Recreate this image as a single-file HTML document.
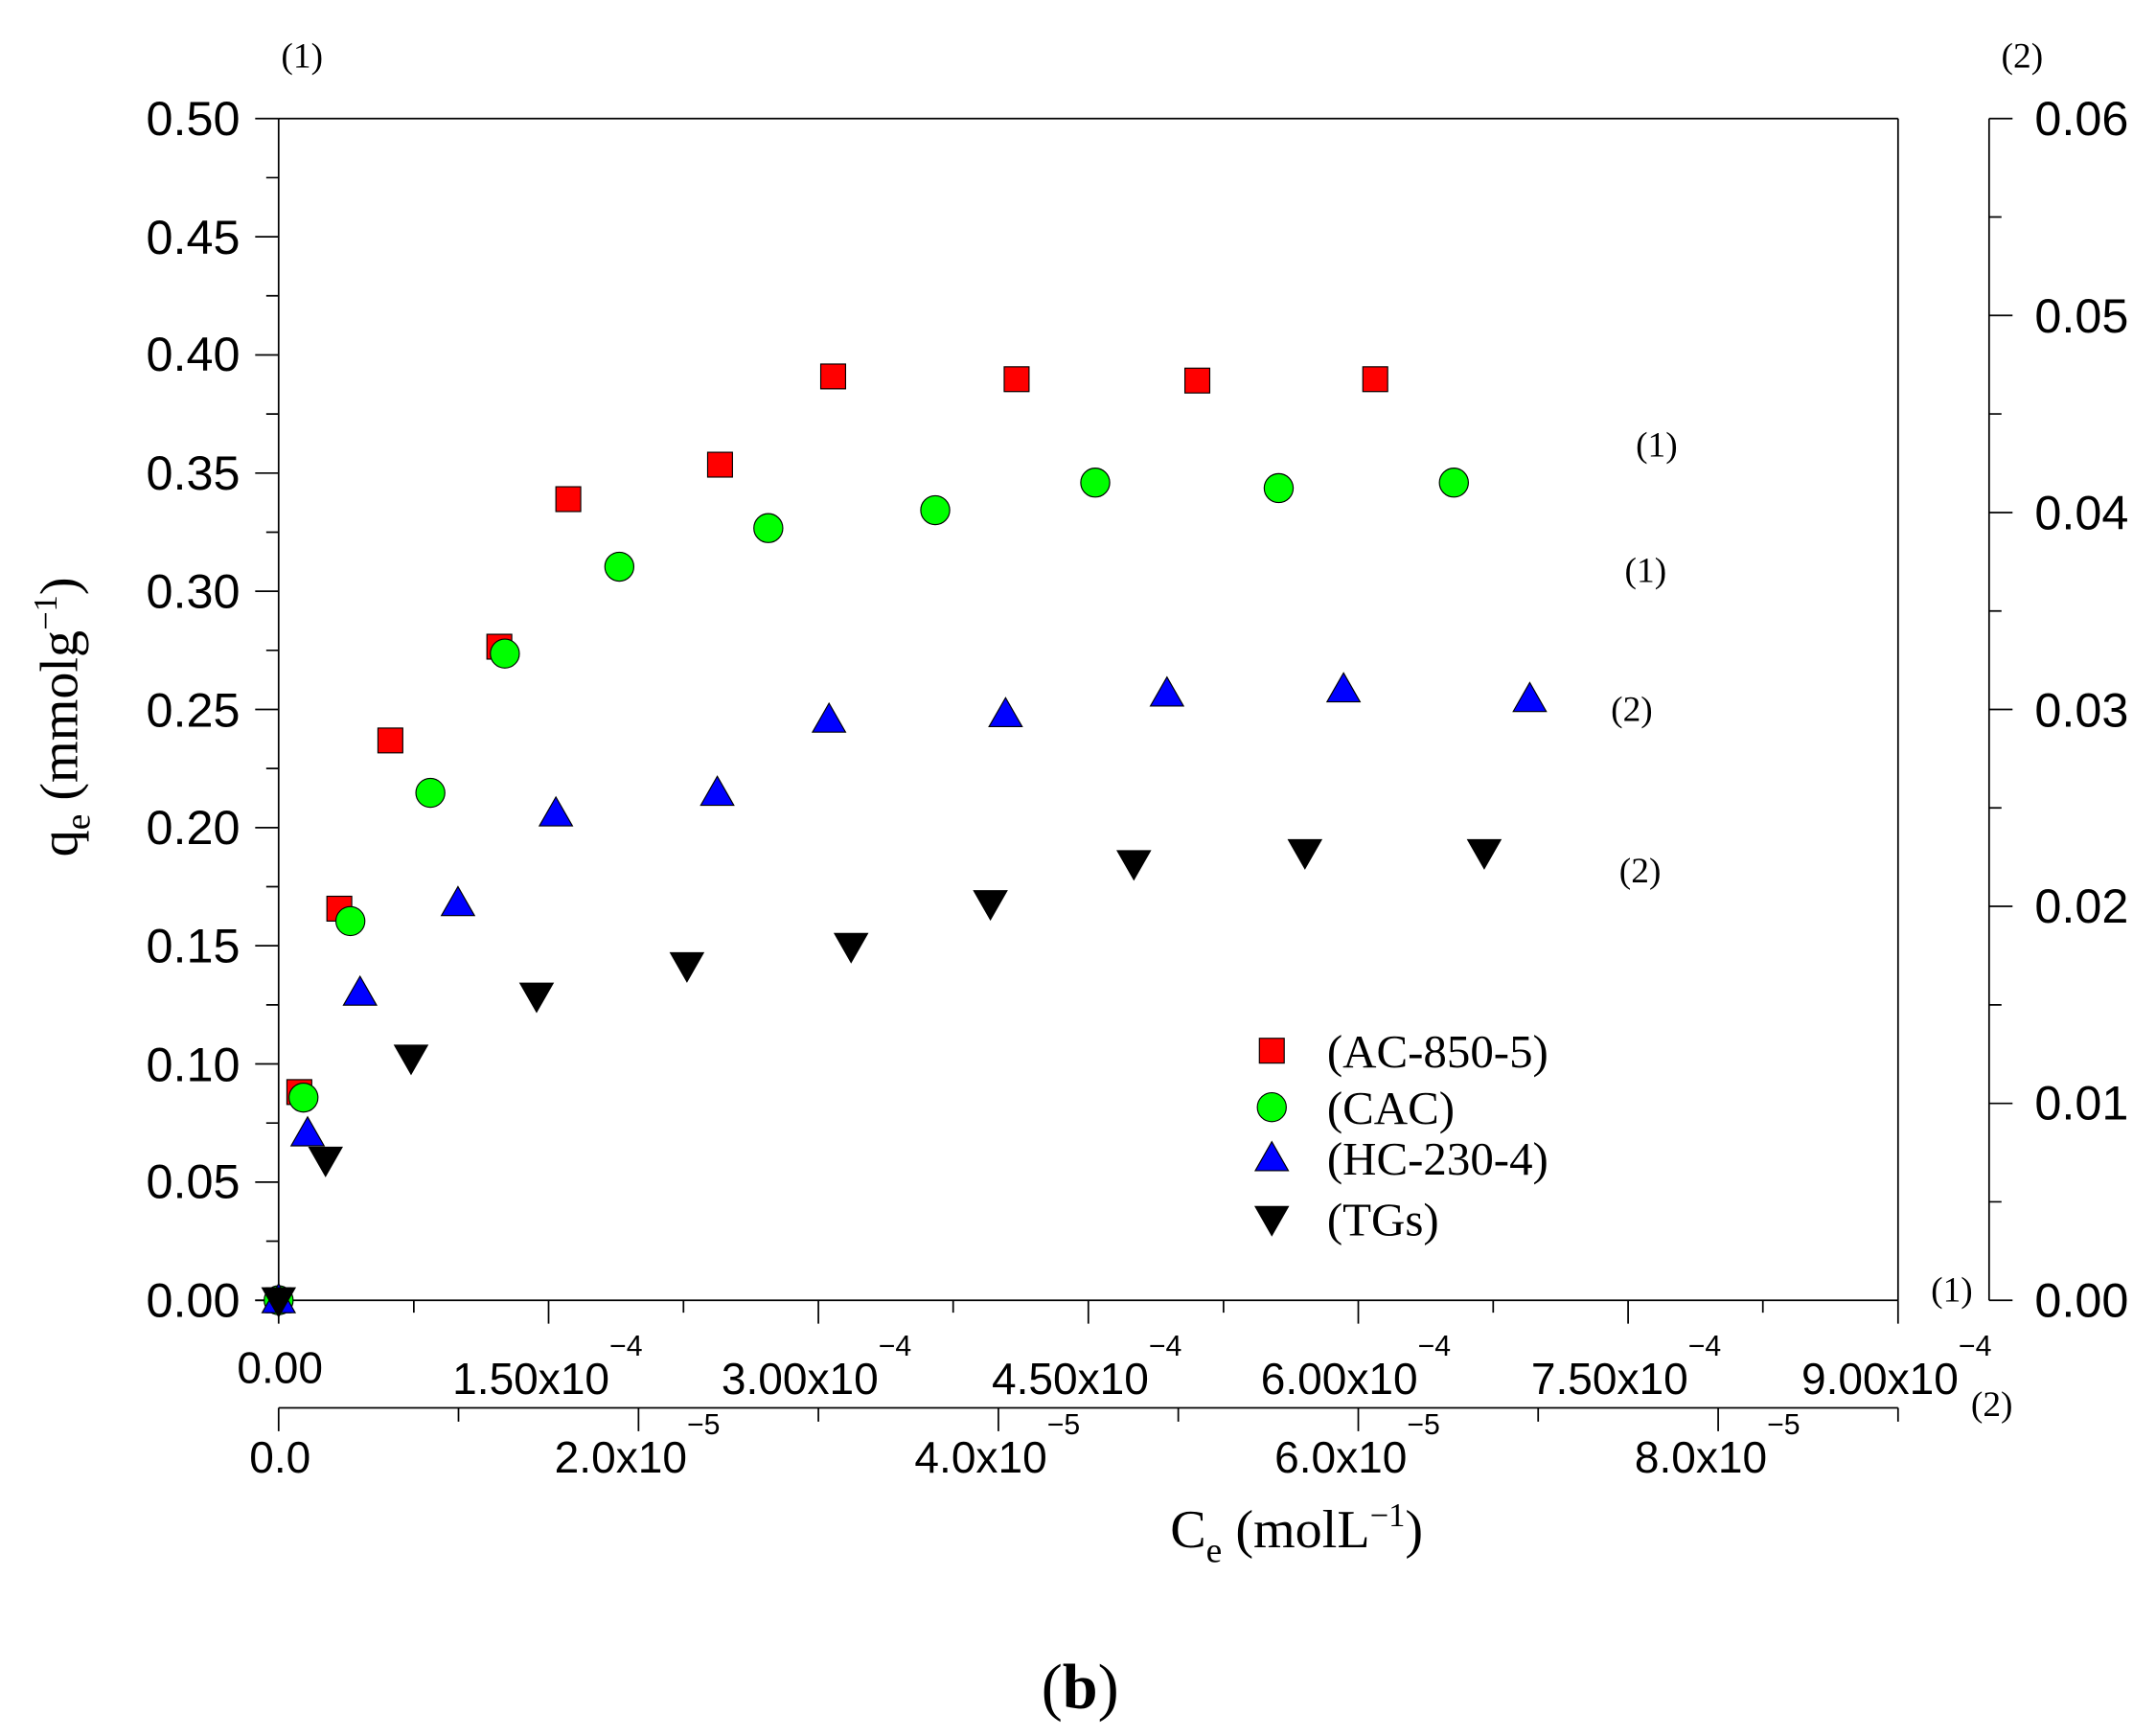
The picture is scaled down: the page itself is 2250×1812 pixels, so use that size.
<!DOCTYPE html>
<html><head><meta charset="utf-8"><style>
html,body{margin:0;padding:0;background:#fff;}
svg{display:block;}
.t{font-family:"Liberation Sans",sans-serif;font-size:35px;fill:#000;}
.s{font-family:"Liberation Serif",serif;fill:#000;}
</style></head><body>
<svg width="2250" height="1812" viewBox="0 0 1563 1259" preserveAspectRatio="none" xmlns="http://www.w3.org/2000/svg">
<g stroke="#000" stroke-width="1.2" fill="none">
<line x1="202" y1="86" x2="1376" y2="86"/>
<line x1="202" y1="86" x2="202" y2="960"/>
<line x1="185" y1="943" x2="1376" y2="943"/>
<line x1="1376" y1="86" x2="1376" y2="943"/>
<line x1="1442" y1="86" x2="1442" y2="943"/>
<line x1="202" y1="1021" x2="1376" y2="1021"/>
</g>
<g stroke="#000" stroke-width="1.2">
<path d="M185 86H202M185 171.7H202M185 257.4H202M185 343.1H202M185 428.8H202M185 514.5H202M185 600.2H202M185 685.9H202M185 771.6H202M185 857.3H202M185 943H202"/>
<path d="M193 128.85H202M193 214.55H202M193 300.25H202M193 385.95H202M193 471.65H202M193 557.35H202M193 643.05H202M193 728.75H202M193 814.45H202M193 900.15H202"/>
<path d="M1442 86H1459M1442 228.8H1459M1442 371.7H1459M1442 514.5H1459M1442 657.3H1459M1442 800.2H1459M1442 943H1459"/>
<path d="M1442 157.4H1451M1442 300.2H1451M1442 443.1H1451M1442 585.9H1451M1442 728.8H1451M1442 871.6H1451"/>
<path d="M397.7 943V960M593.3 943V960M789 943V960M984.7 943V960M1180.3 943V960M1376 943V960"/>
<path d="M300 943V952M495.5 943V952M691 943V952M887 943V952M1082.5 943V952M1278 943V952"/>
<path d="M202 1021V1038M462.9 1021V1038M723.8 1021V1038M984.7 1021V1038M1245.6 1021V1038"/>
<path d="M332.4 1021V1031M593.3 1021V1031M854.2 1021V1031M1115.1 1021V1031M1376 1021V1031"/>
</g>
<g class="t" text-anchor="end">
<text x="174" y="98">0.50</text><text x="174" y="184">0.45</text><text x="174" y="269">0.40</text>
<text x="174" y="355">0.35</text><text x="174" y="441">0.30</text><text x="174" y="527">0.25</text>
<text x="174" y="612">0.20</text><text x="174" y="698">0.15</text><text x="174" y="784">0.10</text>
<text x="174" y="869">0.05</text><text x="174" y="955">0.00</text>
</g>
<g class="t">
<text x="1475" y="98">0.06</text><text x="1475" y="241">0.05</text><text x="1475" y="384">0.04</text>
<text x="1475" y="527">0.03</text><text x="1475" y="669">0.02</text><text x="1475" y="812">0.01</text>
<text x="1475" y="955">0.00</text>
</g>
<g class="t">
<text x="203" y="1003" text-anchor="middle" style="font-size:32px">0.00</text>
<text x="328" y="1011" style="font-size:32px">1.50x10<tspan dy="-28" font-size="21">−4</tspan></text>
<text x="523" y="1011" style="font-size:32px">3.00x10<tspan dy="-28" font-size="21">−4</tspan></text>
<text x="719" y="1011" style="font-size:32px">4.50x10<tspan dy="-28" font-size="21">−4</tspan></text>
<text x="914" y="1011" style="font-size:32px">6.00x10<tspan dy="-28" font-size="21">−4</tspan></text>
<text x="1110" y="1011" style="font-size:32px">7.50x10<tspan dy="-28" font-size="21">−4</tspan></text>
<text x="1306" y="1011" style="font-size:32px">9.00x10<tspan dy="-28" font-size="21">−4</tspan></text>
<text x="203" y="1068" text-anchor="middle" style="font-size:32px">0.0</text>
<text x="402" y="1068" style="font-size:32px">2.0x10<tspan dy="-28" font-size="21">−5</tspan></text>
<text x="663" y="1068" style="font-size:32px">4.0x10<tspan dy="-28" font-size="21">−5</tspan></text>
<text x="924" y="1068" style="font-size:32px">6.0x10<tspan dy="-28" font-size="21">−5</tspan></text>
<text x="1185" y="1068" style="font-size:32px">8.0x10<tspan dy="-28" font-size="21">−5</tspan></text>
</g>
<g class="s" font-size="26" text-anchor="middle">
<text x="219" y="49">(1)</text><text x="1466" y="49">(2)</text>
<text x="1201" y="331">(1)</text><text x="1193" y="422">(1)</text>
<text x="1183" y="523">(2)</text><text x="1189" y="640">(2)</text>
<text x="1415" y="944">(1)</text><text x="1444" y="1027">(2)</text>
</g>
<text class="s" font-size="39" transform="translate(56,520) rotate(-90)" text-anchor="middle">q<tspan dy="9" font-size="26">e</tspan><tspan dy="-9"> (mmolg</tspan><tspan dy="-15" font-size="24">−1</tspan><tspan dy="15">)</tspan></text>
<text class="s" font-size="39" x="940" y="1122" text-anchor="middle">C<tspan dy="11" font-size="26">e</tspan><tspan dy="-11"> (molL</tspan><tspan dy="-15" font-size="24">−1</tspan><tspan dy="15">)</tspan></text>
<text class="s" font-size="46" x="783" y="1239" text-anchor="middle">(<tspan font-weight="bold">b</tspan>)</text>
<defs>
<rect id="sq" x="-9" y="-9" width="18" height="18" fill="#f00" stroke="#000" stroke-width="0.8"/>
<circle id="ci" r="10.5" fill="#0f0" stroke="#000" stroke-width="0.8"/>
<path id="tu" d="M0 -12L12 9H-12Z" fill="#00f" stroke="#000" stroke-width="0.8"/>
<path id="td" d="M0 12L12 -9H-12Z" fill="#000" stroke="#000" stroke-width="0.8"/>
</defs>
<g>
<use href="#sq" x="202" y="943"/><use href="#sq" x="217" y="792"/><use href="#sq" x="246" y="659"/><use href="#sq" x="283" y="537"/><use href="#sq" x="362" y="469"/><use href="#sq" x="412" y="362"/><use href="#sq" x="522" y="337"/><use href="#sq" x="604" y="273"/><use href="#sq" x="737" y="275"/><use href="#sq" x="868" y="276"/><use href="#sq" x="997" y="275"/>
<use href="#ci" x="202" y="943"/><use href="#ci" x="220" y="796"/><use href="#ci" x="254" y="668"/><use href="#ci" x="312" y="575"/><use href="#ci" x="366" y="474"/><use href="#ci" x="449" y="411"/><use href="#ci" x="557" y="383"/><use href="#ci" x="678" y="370"/><use href="#ci" x="794" y="350"/><use href="#ci" x="927" y="354"/><use href="#ci" x="1054" y="350"/>
<use href="#tu" x="202" y="943"/><use href="#tu" x="223" y="822"/><use href="#tu" x="261" y="720"/><use href="#tu" x="332" y="655"/><use href="#tu" x="403" y="590"/><use href="#tu" x="520" y="575"/><use href="#tu" x="601" y="522"/><use href="#tu" x="729" y="518"/><use href="#tu" x="846" y="503"/><use href="#tu" x="974" y="500"/><use href="#tu" x="1109" y="507"/>
<use href="#td" x="202" y="943"/><use href="#td" x="236" y="841"/><use href="#td" x="298" y="767"/><use href="#td" x="389" y="722"/><use href="#td" x="498" y="700"/><use href="#td" x="617" y="686"/><use href="#td" x="718" y="655"/><use href="#td" x="822" y="626"/><use href="#td" x="946" y="618"/><use href="#td" x="1076" y="618"/>
<use href="#sq" x="922" y="762"/><use href="#ci" x="922" y="803"/><use href="#tu" x="922" y="840"/><use href="#td" x="922" y="884"/>
</g>
<g class="s" font-size="34">
<text x="962" y="774">(AC-850-5)</text>
<text x="962" y="815">(CAC)</text>
<text x="962" y="852">(HC-230-4)</text>
<text x="962" y="896">(TGs)</text>
</g>
</svg>
</body></html>
